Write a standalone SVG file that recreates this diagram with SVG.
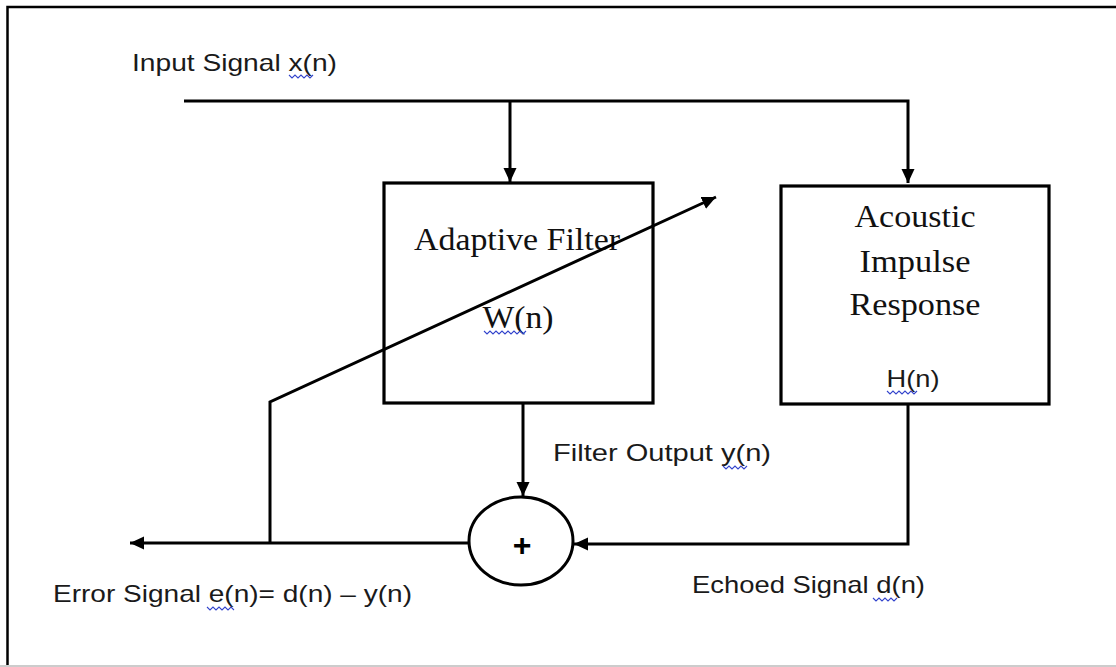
<svg xmlns="http://www.w3.org/2000/svg" width="1116" height="667" viewBox="0 0 1116 667">
<style>
.ln{fill:none;stroke:#000;stroke-width:3}
.box{fill:#fff;stroke:#000;stroke-width:3.2}
.sans{font-family:"Liberation Sans","Open Sans",sans-serif;font-size:24px;fill:#1a1a1a}
.serif{font-family:"Liberation Serif","DejaVu Serif",serif;font-size:31px;fill:#111}
.wavy{fill:none;stroke:#3344cc;stroke-width:1.1}
</style>
<defs>
<marker id="ah" markerUnits="userSpaceOnUse" markerWidth="16" markerHeight="14" refX="14" refY="6.5" orient="auto">
<path d="M0,0 L14,6.5 L0,13 z" fill="#000"/>
</marker>
</defs>
<rect width="1116" height="667" fill="#fff"/>
<g id="frame">
<path d="M7.5,667 V7 H1116" fill="none" stroke="#000" stroke-width="2.5"/>
<line x1="0" y1="666" x2="1116" y2="666" stroke="#ccc" stroke-width="2"/>
</g>
<g id="adaptive-filter">
<rect class="box" x="384" y="183" width="269" height="220"/>
<text class="serif" x="414" y="250" textLength="206" lengthAdjust="spacingAndGlyphs">Adaptive Filter</text>
<text class="serif" x="518" y="328" text-anchor="middle" textLength="71" lengthAdjust="spacingAndGlyphs">W(n)</text>
<path class="wavy" d="M484,331 l3,3 l3,-3 l3,3 l3,-3 l3,3 l3,-3 l3,3 l3,-3 l3,3 l3,-3 l3,3 l3,-3 l3,3 l3,-3"/>
</g>
<g id="acoustic">
<rect class="box" x="781" y="186" width="268" height="218"/>
<text class="serif" x="915" y="227" text-anchor="middle" textLength="121" lengthAdjust="spacingAndGlyphs">Acoustic</text>
<text class="serif" x="915" y="272" text-anchor="middle" textLength="111" lengthAdjust="spacingAndGlyphs">Impulse</text>
<text class="serif" x="915" y="315" text-anchor="middle" textLength="131" lengthAdjust="spacingAndGlyphs">Response</text>
<text class="sans" x="913" y="387" text-anchor="middle" textLength="53" lengthAdjust="spacingAndGlyphs">H(n)</text>
<path class="wavy" d="M887,391 l3,3 l3,-3 l3,3 l3,-3 l3,3 l3,-3 l3,3 l3,-3 l3,3 l3,-3"/>
</g>
<g id="summer">
<ellipse cx="521" cy="541" rx="52" ry="44" fill="#fff" stroke="#000" stroke-width="3"/>
<text x="522" y="556" text-anchor="middle" font-family="Liberation Sans, sans-serif" font-size="32" font-weight="bold" fill="#000">+</text>
</g>
<g id="connectors">
<path class="ln" d="M184,101 H908 V183" marker-end="url(#ah)"/>
<path class="ln" d="M510,101 V182" marker-end="url(#ah)"/>
<path class="ln" d="M523,403 V496" marker-end="url(#ah)"/>
<path class="ln" d="M908,404 V544 H574" marker-end="url(#ah)"/>
<path class="ln" d="M468,543 H130" marker-end="url(#ah)"/>
<path class="ln" d="M270,543 V402 L716,197" marker-end="url(#ah)"/>
</g>
<g id="labels">
<text class="sans" x="132" y="71" textLength="205" lengthAdjust="spacingAndGlyphs">Input Signal x(n)</text>
<path class="wavy" d="M289,75 l3,3 l3,-3 l3,3 l3,-3 l3,3 l3,-3 l3,3 l3,-3"/>
<text class="sans" x="553" y="461" textLength="218" lengthAdjust="spacingAndGlyphs">Filter Output y(n)</text>
<path class="wavy" d="M723,466 l3,3 l3,-3 l3,3 l3,-3 l3,3 l3,-3 l3,3 l3,-3"/>
<text class="sans" x="692" y="593" textLength="233" lengthAdjust="spacingAndGlyphs">Echoed Signal d(n)</text>
<path class="wavy" d="M873,598 l3,3 l3,-3 l3,3 l3,-3 l3,3 l3,-3 l3,3 l3,-3"/>
<text class="sans" x="53" y="602" textLength="359" lengthAdjust="spacingAndGlyphs">Error Signal e(n)= d(n) – y(n)</text>
<path class="wavy" d="M207,607 l3,3 l3,-3 l3,3 l3,-3 l3,3 l3,-3 l3,3 l3,-3 l3,3"/>
</g>
</svg>
